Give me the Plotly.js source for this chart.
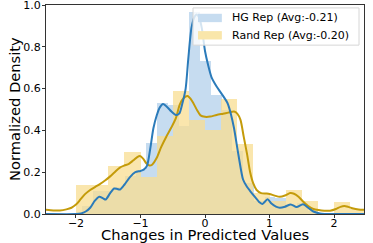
<!DOCTYPE html>
<html>
<head>
<meta charset="utf-8">
<script src="https://cdn.plot.ly/plotly-3.0.1.min.js"></script>
<style>html,body{margin:0;padding:0;background:#fff;}#chart{width:373px;height:243px;}</style>
</head>
<body>
<div id="chart"></div>
<script>
// ---- Histogram data (bin left edges, heights) ----
const hgBinLeft = [-1.91, -1.743, -1.577, -1.41, -1.243, -1.077, -0.91, -0.743, -0.577, -0.41, -0.243, -0.077, 0.09, 0.257, 0.423, 0.59, 0.757, 0.923, 1.09, 1.257, 1.423, 1.59];
const hgHeights = [0.04, 0.11, 0.11, 0.13, 0.18, 0.21, 0.34, 0.53, 0.52, 0.42, 0.966, 0.73, 0.57, 0.50, 0.30, 0.15, 0.06, 0.08, 0.075, 0.04, 0.055, 0.015];
const hgBinWidth = 0.1667;

const randBinLeft = [-2.0, -1.75, -1.5, -1.25, -1.0, -0.75, -0.5, -0.25, 0.0, 0.25, 0.5, 0.75, 1.0, 1.25, 1.5, 1.75, 2.0, 2.25];
const randHeights = [0.138, 0.138, 0.232, 0.295, 0.178, 0.374, 0.59, 0.45, 0.40, 0.55, 0.336, 0.102, 0.062, 0.117, 0.06, 0.0, 0.058, 0.025];
const randBinWidth = 0.25;

// ---- KDE curves ----
const hgKdeX = [-2.47, -2.0, -1.92, -1.85, -1.78, -1.71, -1.64, -1.58, -1.54, -1.47, -1.41, -1.36, -1.32, -1.25, -1.16, -1.08, -1.0, -0.95, -0.9, -0.85, -0.8, -0.75, -0.7, -0.65, -0.58, -0.52, -0.45, -0.4, -0.35, -0.3, -0.26, -0.21, -0.16, -0.13, -0.09, -0.05, 0.0, 0.05, 0.1, 0.18, 0.28, 0.35, 0.4, 0.45, 0.52, 0.59, 0.65, 0.7, 0.78, 0.85, 0.89, 0.97, 1.03, 1.1, 1.16, 1.24, 1.33, 1.42, 1.52, 1.6, 1.68, 1.78, 1.85, 2.47];
const hgKdeY = [0, 0, 0.003, 0.012, 0.03, 0.063, 0.083, 0.075, 0.069, 0.1, 0.122, 0.12, 0.117, 0.14, 0.178, 0.2, 0.206, 0.212, 0.23, 0.31, 0.41, 0.47, 0.51, 0.526, 0.51, 0.49, 0.474, 0.48, 0.53, 0.6, 0.74, 0.89, 0.945, 0.955, 0.94, 0.89, 0.78, 0.71, 0.655, 0.61, 0.565, 0.53, 0.48, 0.41, 0.28, 0.165, 0.13, 0.11, 0.08, 0.055, 0.048, 0.07, 0.05, 0.035, 0.03, 0.035, 0.046, 0.033, 0.047, 0.03, 0.012, 0.002, 0, 0];

const randKdeX = [-2.47, -2.35, -2.25, -2.15, -2.07, -2.0, -1.94, -1.86, -1.78, -1.7, -1.63, -1.55, -1.47, -1.4, -1.32, -1.25, -1.18, -1.11, -1.05, -1.01, -0.96, -0.91, -0.86, -0.82, -0.75, -0.68, -0.6, -0.52, -0.45, -0.39, -0.33, -0.27, -0.22, -0.18, -0.12, -0.07, 0.0, 0.08, 0.18, 0.28, 0.36, 0.45, 0.5, 0.55, 0.6, 0.65, 0.7, 0.75, 0.8, 0.87, 0.95, 1.0, 1.08, 1.16, 1.25, 1.32, 1.38, 1.45, 1.52, 1.6, 1.68, 1.76, 1.85, 1.94, 2.03, 2.1, 2.16, 2.22, 2.3, 2.38, 2.47];
const randKdeY = [0.02, 0.017, 0.017, 0.022, 0.03, 0.045, 0.066, 0.095, 0.115, 0.13, 0.143, 0.16, 0.18, 0.2, 0.222, 0.232, 0.24, 0.257, 0.272, 0.277, 0.265, 0.243, 0.232, 0.236, 0.268, 0.32, 0.37, 0.415, 0.46, 0.525, 0.555, 0.565, 0.55, 0.53, 0.495, 0.472, 0.465, 0.466, 0.474, 0.48, 0.485, 0.49, 0.48, 0.45, 0.37, 0.29, 0.2, 0.145, 0.115, 0.1, 0.098, 0.096, 0.088, 0.082, 0.09, 0.1, 0.097, 0.083, 0.06, 0.038, 0.024, 0.019, 0.016, 0.016, 0.024, 0.034, 0.038, 0.034, 0.026, 0.022, 0.02];

const legendNames = ['HG Rep (Avg:-0.21)', 'Rand Rep (Avg:-0.20)'];
const xTitle = 'Changes in Predicted Values';
const yTitle = 'Normalized Density';
const xTickVals = [-2, -1, 0, 1, 2];
const yTickVals = [0.0, 0.2, 0.4, 0.6, 0.8, 1.0];

const hgCenters = hgBinLeft.map(v => v + hgBinWidth / 2);
const randCenters = randBinLeft.map(v => v + randBinWidth / 2);

const blueBar = 'rgba(198,220,240,1)';
const goldBar = 'rgba(248,222,145,0.75)';
const blueLine = '#2b7bba';
const goldLine = '#c49b0a';

const data = [
  {type: 'bar', x: hgCenters, y: hgHeights, width: hgBinWidth, name: legendNames[0], showlegend: false,
   marker: {color: blueBar, line: {width: 0}}},
  {type: 'bar', x: randCenters, y: randHeights, width: randBinWidth, name: legendNames[1], showlegend: false,
   marker: {color: goldBar, line: {width: 0}}},
  {type: 'scatter', mode: 'lines', x: randKdeX, y: randKdeY, showlegend: false,
   line: {color: goldLine, width: 2, shape: 'spline', smoothing: 0.7}},
  {type: 'scatter', mode: 'lines', x: hgKdeX, y: hgKdeY, showlegend: false,
   line: {color: blueLine, width: 2, shape: 'spline', smoothing: 0.7}}
];

const font = 'DejaVu Sans, Liberation Sans, sans-serif';

// Legend drawn as a box with two wide patches (matplotlib style)
const legendShapes = [
  {type: 'rect', xref: 'paper', yref: 'paper', x0: 0.4623, x1: 0.9843, y0: 0.808, y1: 0.986,
   line: {color: '#d6d6d6', width: 1}, fillcolor: 'rgba(255,255,255,0.8)', layer: 'above'},
  {type: 'rect', xref: 'paper', yref: 'paper', x0: 0.478, x1: 0.553, y0: 0.918, y1: 0.958,
   line: {width: 0}, fillcolor: blueBar, layer: 'above'},
  {type: 'rect', xref: 'paper', yref: 'paper', x0: 0.478, x1: 0.553, y0: 0.835, y1: 0.875,
   line: {width: 0}, fillcolor: 'rgba(249,230,170,1)', layer: 'above'}
];
const annotations = [
  {xref: 'paper', yref: 'paper', x: 0.578, y: 0.938, xanchor: 'left', yanchor: 'middle', showarrow: false,
   text: legendNames[0], font: {family: font, size: 11, color: '#000'}},
  {xref: 'paper', yref: 'paper', x: 0.578, y: 0.855, xanchor: 'left', yanchor: 'middle', showarrow: false,
   text: legendNames[1], font: {family: font, size: 11, color: '#000'}},
  {xref: 'paper', yref: 'paper', x: 0.5, y: -0.097, xanchor: 'center', yanchor: 'middle', showarrow: false,
   borderpad: 0, text: xTitle, font: {family: font, size: 14.7, color: '#000'}},
  {xref: 'paper', yref: 'paper', x: -0.099, y: 0.5, xanchor: 'center', yanchor: 'middle', showarrow: false,
   textangle: -90, text: yTitle, font: {family: font, size: 14.7, color: '#000'}}
];

const layout = {
  width: 373, height: 243,
  margin: {l: 46, r: 9, t: 5, b: 29, pad: 0},
  paper_bgcolor: '#fff', plot_bgcolor: '#fff',
  barmode: 'overlay', bargap: 0,
  font: {family: font, color: '#000', size: 11},
  showlegend: false,
  shapes: legendShapes,
  annotations: annotations,
  xaxis: {range: [-2.465, 2.465], tickvals: xTickVals, ticks: 'outside', ticklen: 3, tickwidth: 1,
          tickcolor: '#333', showgrid: false, zeroline: false, showline: true, linecolor: '#333',
          linewidth: 1, mirror: true, tickfont: {size: 11}, ticklabelstandoff: -4},
  yaxis: {range: [0, 1.0], tickvals: yTickVals, tickformat: '.1f', ticks: 'outside', ticklen: 3, tickwidth: 1,
          tickcolor: '#333', showgrid: false, zeroline: false, showline: true, linecolor: '#333',
          linewidth: 1, mirror: true, tickfont: {size: 11}, ticklabelstandoff: -1,
          ticklabeloverflow: 'allow'}
};

Plotly.newPlot('chart', data, layout, {staticPlot: true, displayModeBar: false});
</script>
</body>
</html>
